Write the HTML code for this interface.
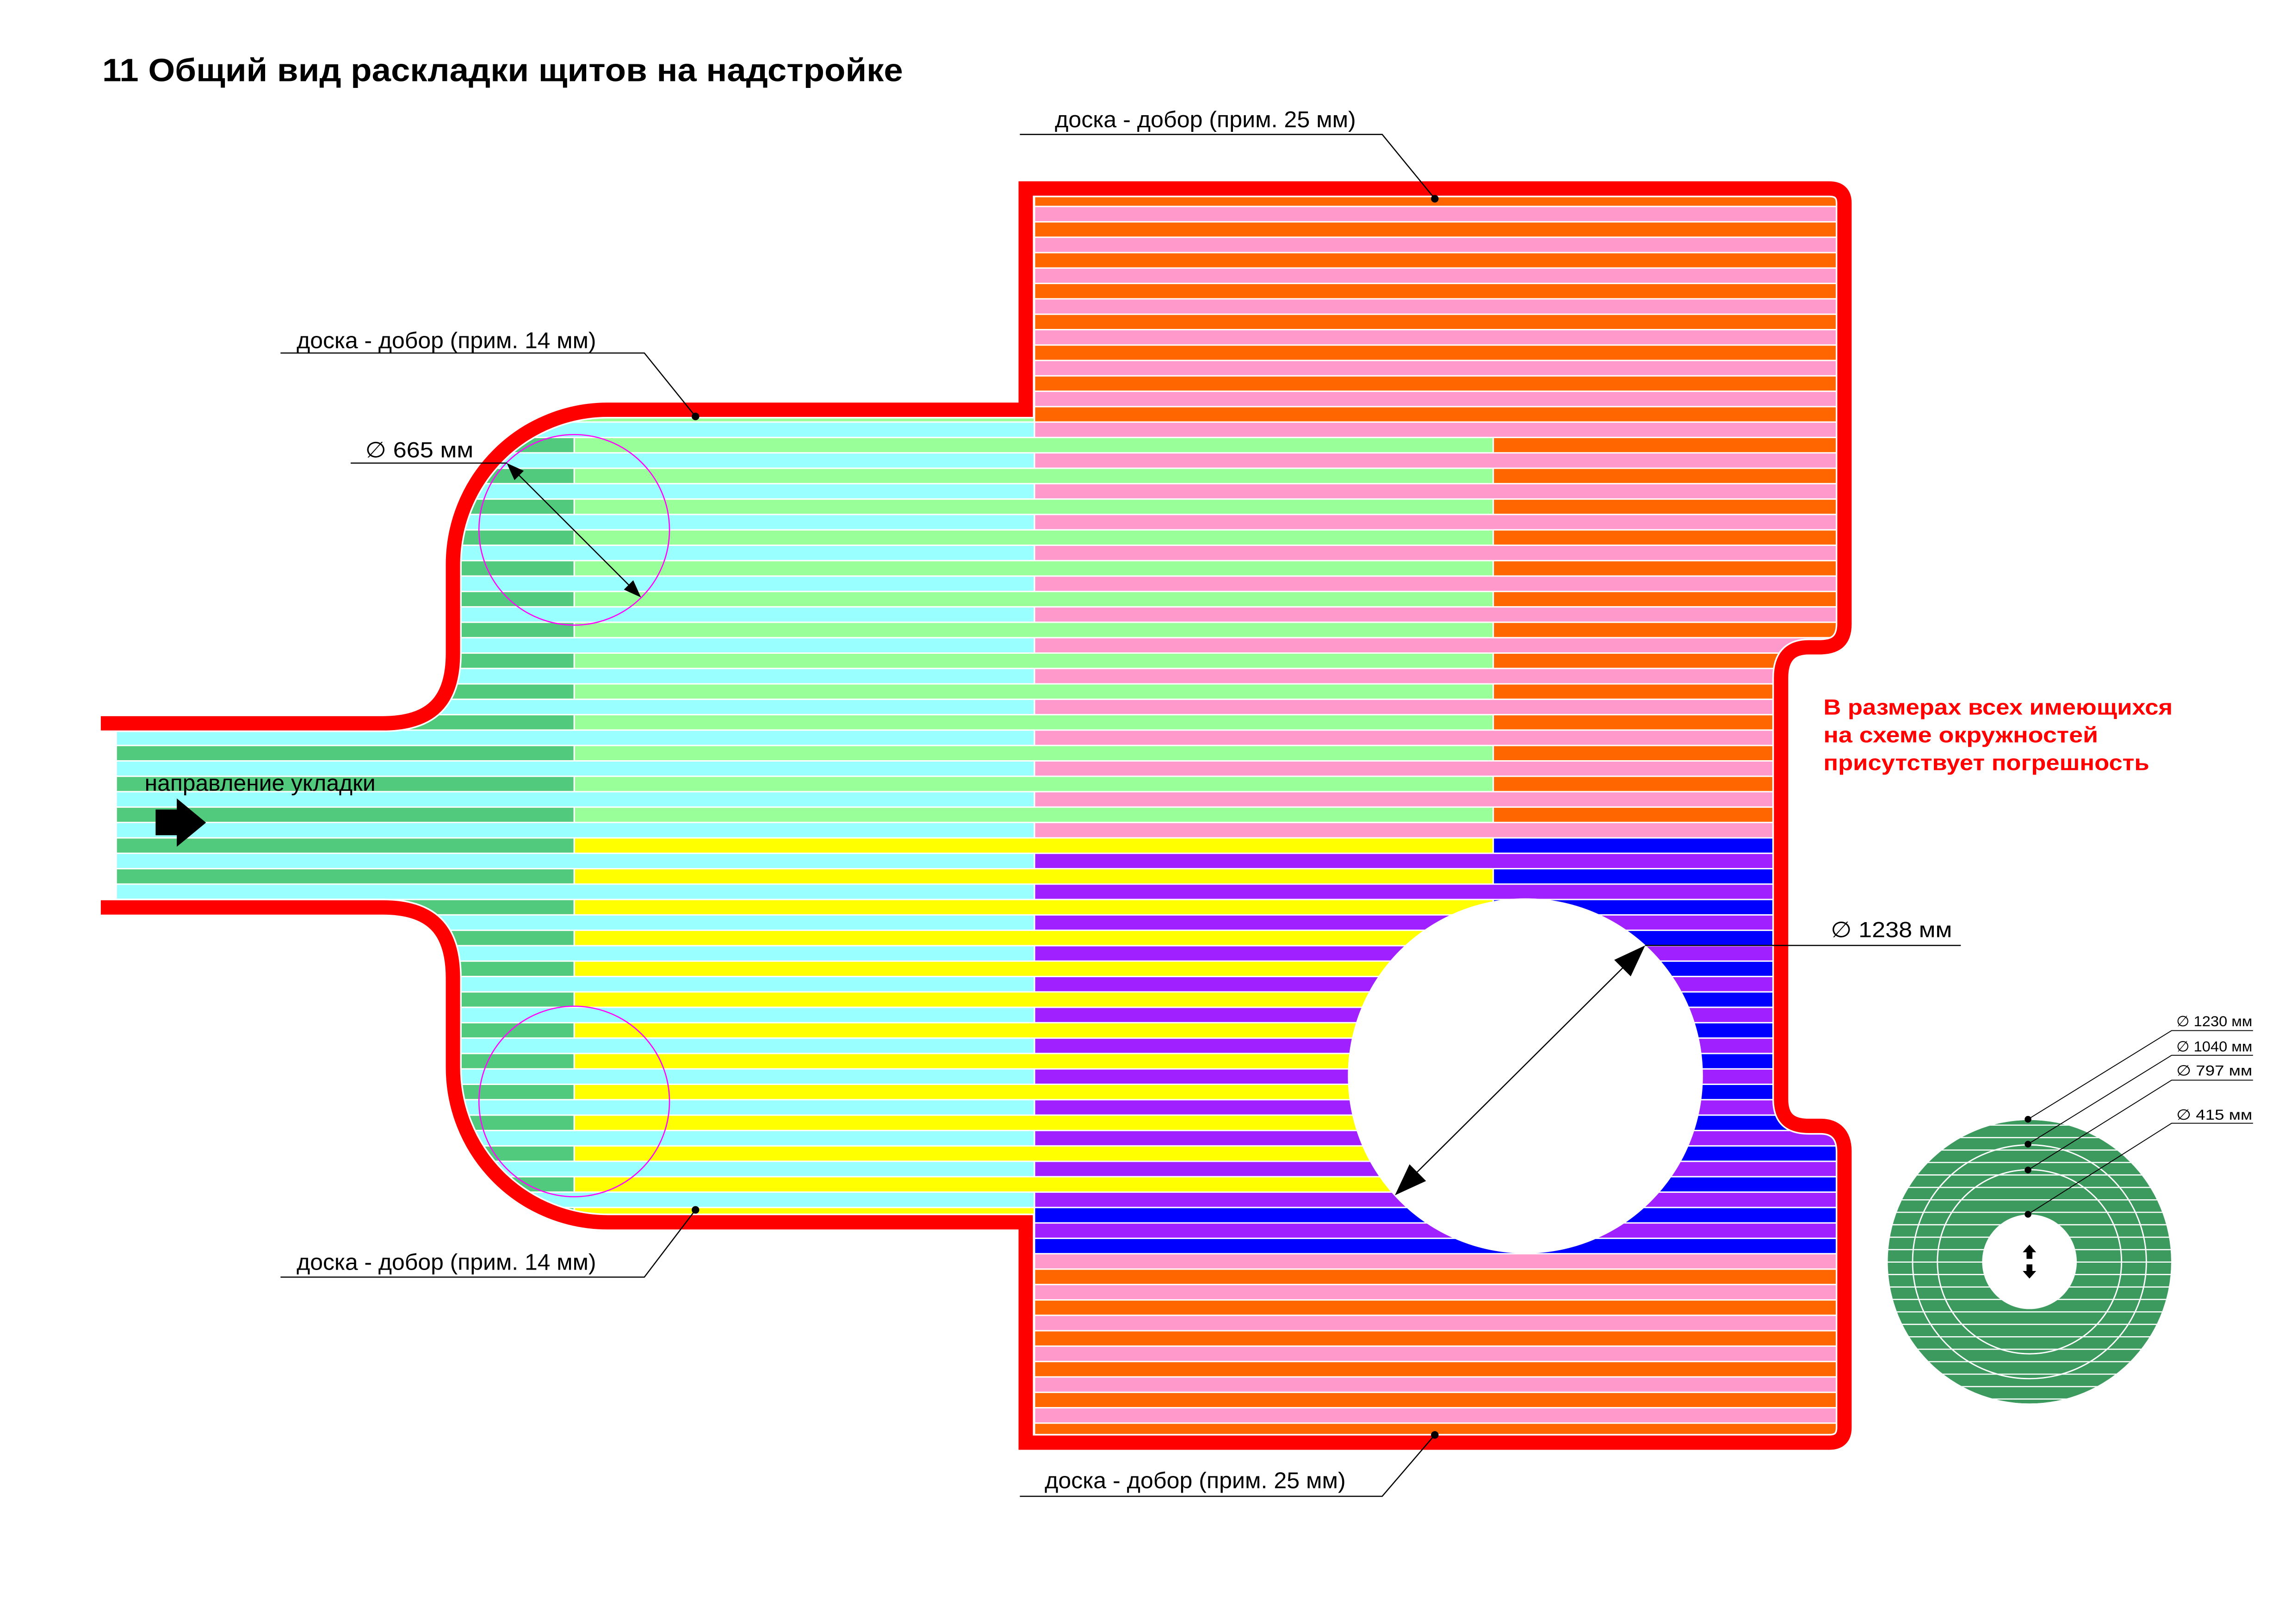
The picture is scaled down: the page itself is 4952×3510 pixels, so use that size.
<!DOCTYPE html>
<html><head><meta charset="utf-8"><style>
html,body{margin:0;padding:0;background:#fff;}
svg{display:block;}
text{font-family:"Liberation Sans","DejaVu Sans",sans-serif;}
</style></head><body>
<svg id="s" xmlns="http://www.w3.org/2000/svg" width="4952" height="3510" viewBox="0 0 1568 1111.4" preserveAspectRatio="none">
<defs>
<clipPath id="shape"><path d="M 80 495 H 262 C 295 495 310 480 310 447 V 386 A 106 106 0 0 1 416 280.4 H 702 V 129 H 1252 Q 1262.4 129 1262.4 139 V 427 C 1262.4 440 1255 443 1245 443 H 1238 C 1225 443 1219 450 1219 464 V 752 C 1219 765 1225 770.5 1238 770.5 H 1246 C 1256 770.5 1262.4 776 1262.4 788 V 977 Q 1262.4 987.3 1252 987.3 H 702 V 836.5 H 416 A 106 106 0 0 1 310 730.5 V 669.5 C 310 636 295 621 262 621 H 80 Z"/></clipPath>
<clipPath id="disc"><circle cx="1389" cy="863.5" r="97"/></clipPath>
</defs>
<rect width="1568" height="1111.4" fill="#fff"/>
<g id="stripes" clip-path="url(#shape)"></g>
<circle cx="1044" cy="736.3" r="121.5" fill="#fff"/>
<path d="M 69 495 H 262 C 295 495 310 480 310 447 V 386 A 106 106 0 0 1 416 280.4 H 702 V 129 H 1252 Q 1262.4 129 1262.4 139 V 427 C 1262.4 440 1255 443 1245 443 H 1238 C 1225 443 1219 450 1219 464 V 752 C 1219 765 1225 770.5 1238 770.5 H 1246 C 1256 770.5 1262.4 776 1262.4 788 V 977 Q 1262.4 987.3 1252 987.3 H 702 V 836.5 H 416 A 106 106 0 0 1 310 730.5 V 669.5 C 310 636 295 621 262 621 H 69" fill="none" stroke="#fff" stroke-width="12"/>
<path d="M 69 495 H 262 C 295 495 310 480 310 447 V 386 A 106 106 0 0 1 416 280.4 H 702 V 129 H 1252 Q 1262.4 129 1262.4 139 V 427 C 1262.4 440 1255 443 1245 443 H 1238 C 1225 443 1219 450 1219 464 V 752 C 1219 765 1225 770.5 1238 770.5 H 1246 C 1256 770.5 1262.4 776 1262.4 788 V 977 Q 1262.4 987.3 1252 987.3 H 702 V 836.5 H 416 A 106 106 0 0 1 310 730.5 V 669.5 C 310 636 295 621 262 621 H 69" fill="none" stroke="#ff0000" stroke-width="9.8"/>

<circle cx="393" cy="362.6" r="65.2" fill="none" stroke="#ff00ff" stroke-width="0.8"/>
<circle cx="393" cy="753.8" r="65.2" fill="none" stroke="#ff00ff" stroke-width="0.8"/>

<line x1="350" y1="320" x2="435" y2="405" stroke="#000" stroke-width="0.8"/>
<polygon points="438.7,408.8 427.0,403.5 433.4,397.1" fill="#000"/>
<polygon points="346.8,316.9 352.1,328.6 358.5,322.2" fill="#000"/>
<line x1="240" y1="316.9" x2="347" y2="316.9" stroke="#000" stroke-width="0.8"/>
<text x="250" y="313" font-size="15" textLength="74" lengthAdjust="spacingAndGlyphs">∅ 665 мм</text>

<line x1="1112" y1="661" x2="968" y2="804" stroke="#000" stroke-width="0.8"/>
<polygon points="1126,647 1116.1,668.2 1104.8,656.9" fill="#000"/>
<polygon points="954.7,818 976.0,808.2 964.7,796.8" fill="#000"/>
<line x1="1126" y1="647" x2="1342" y2="647" stroke="#000" stroke-width="0.8"/>
<text x="1253" y="641.3" font-size="15" textLength="83" lengthAdjust="spacingAndGlyphs">∅ 1238 мм</text>

<text x="70" y="55.5" font-size="22" font-weight="bold" textLength="548" lengthAdjust="spacingAndGlyphs">11 Общий вид раскладки щитов на надстройке</text>

<g stroke="#000" stroke-width="0.8" fill="none">
<polyline points="698,92 946,92 982,136"/>
<polyline points="192,241.6 441,241.6 476,285"/>
<polyline points="192,874 441,874 476,828"/>
<polyline points="698,1024 946,1024 982,982"/>
</g>
<g fill="#000">
<circle cx="982" cy="136" r="2.6"/><circle cx="476" cy="285" r="2.6"/>
<circle cx="476" cy="828" r="2.6"/><circle cx="982" cy="982" r="2.6"/>
</g>
<g font-size="15.5">
<text x="722" y="87" textLength="206" lengthAdjust="spacingAndGlyphs">доска - добор (прим. 25 мм)</text>
<text x="203" y="238.3" textLength="205" lengthAdjust="spacingAndGlyphs">доска - добор (прим. 14 мм)</text>
<text x="203" y="869" textLength="205" lengthAdjust="spacingAndGlyphs">доска - добор (прим. 14 мм)</text>
<text x="715" y="1018.5" textLength="206" lengthAdjust="spacingAndGlyphs">доска - добор (прим. 25 мм)</text>
<text x="99" y="541.2" textLength="158" lengthAdjust="spacingAndGlyphs">направление укладки</text>
</g>
<rect x="106.5" y="554" width="16" height="17.6" fill="#000"/>
<polygon points="121,546.4 141,563 121,579.5" fill="#000"/>

<g fill="#ff0000" font-weight="bold" font-size="15">
<text x="1248" y="489" textLength="239" lengthAdjust="spacingAndGlyphs">В размерах всех имеющихся</text>
<text x="1248" y="508" textLength="188" lengthAdjust="spacingAndGlyphs">на схеме  окружностей</text>
<text x="1248" y="527" textLength="223" lengthAdjust="spacingAndGlyphs">присутствует погрешность</text>
</g>

<g clip-path="url(#disc)">
<circle cx="1389" cy="863.5" r="97" fill="#3d9a5e"/>
<g id="disclines" stroke="#fff" stroke-width="0.8"></g>
</g>
<circle cx="1389" cy="863.5" r="80" fill="none" stroke="#fff" stroke-width="0.9"/>
<circle cx="1389" cy="863.5" r="63" fill="none" stroke="#fff" stroke-width="0.9"/>
<circle cx="1389" cy="863.5" r="32.4" fill="#fff"/>
<polygon points="1389,851.8 1393.6,857 1391,857 1391,861.5 1387,861.5 1387,857 1384.4,857" fill="#000"/>
<polygon points="1389,875 1393.6,869.8 1391,869.8 1391,865.3 1387,865.3 1387,869.8 1384.4,869.8" fill="#000"/>
<g stroke="#000" stroke-width="0.6" fill="none">
<polyline points="1542,705.3 1486.3,705.3 1388,766"/>
<polyline points="1542,722.2 1486.3,722.2 1388,783"/>
<polyline points="1542,739.2 1486.3,739.2 1388,800.7"/>
<polyline points="1542,768.7 1486.3,768.7 1388,831"/>
</g>
<g fill="#000">
<circle cx="1388" cy="766" r="2.3"/><circle cx="1388" cy="783" r="2.3"/>
<circle cx="1388" cy="800.7" r="2.3"/><circle cx="1388" cy="831" r="2.3"/>
</g>
<g font-size="10">
<text x="1489.5" y="702.3" textLength="52" lengthAdjust="spacingAndGlyphs">∅ 1230 мм</text>
<text x="1489.5" y="719.5" textLength="52" lengthAdjust="spacingAndGlyphs">∅ 1040 мм</text>
<text x="1489.5" y="736" textLength="52" lengthAdjust="spacingAndGlyphs">∅   797 мм</text>
<text x="1489.5" y="766.2" textLength="52" lengthAdjust="spacingAndGlyphs">∅   415 мм</text>
</g>
</svg>
<script>
(function(){
var NS="http://www.w3.org/2000/svg";
var DG="#52ca7d",CY="#99ffff",LG="#99ff99",OR="#ff6600",PK="#ff99cc",YE="#ffff00",BL="#0000ff",PU="#a020ff";
var xs=[60,393,708,1022,1275];
var g=document.getElementById("stripes");
for(var k=0;k<=81;k++){
  var A=(k%2===0);var c;
  if(k<=13) c=[null,null,A?OR:PK,A?OR:PK];
  else if(k===14) c=[DG,LG,OR,OR];
  else if(k<=41) c=[A?DG:CY,A?LG:CY,A?LG:PK,A?OR:PK];
  else if(k<=65) c=[A?DG:CY,A?YE:CY,A?YE:PU,A?BL:PU];
  else if(k<=68) c=[A?DG:CY,A?YE:CY,A?BL:PU,A?BL:PU];
  else c=[null,null,A?OR:PK,A?OR:PK];
  var y=131.2+10.54*k;
  var i=0;
  while(i<4){
    var col=c[i];var j=i;
    while(j+1<4&&c[j+1]===col)j++;
    if(col){
      var x0=xs[i]+(i>0?0.5:0),x1=xs[j+1]-(j<3?0.5:0);
      var r=document.createElementNS(NS,"rect");
      r.setAttribute("x",x0);r.setAttribute("y",y);
      r.setAttribute("width",x1-x0);r.setAttribute("height",9.6);
      r.setAttribute("fill",col);g.appendChild(r);
    }
    i=j+1;
  }
}
var d=document.getElementById("disclines");
for(var y=770-8.52*2;y<970;y+=8.52){
  var l=document.createElementNS(NS,"line");
  l.setAttribute("x1",1280);l.setAttribute("x2",1500);
  l.setAttribute("y1",y);l.setAttribute("y2",y);d.appendChild(l);
}
})();
</script>
</body></html>
